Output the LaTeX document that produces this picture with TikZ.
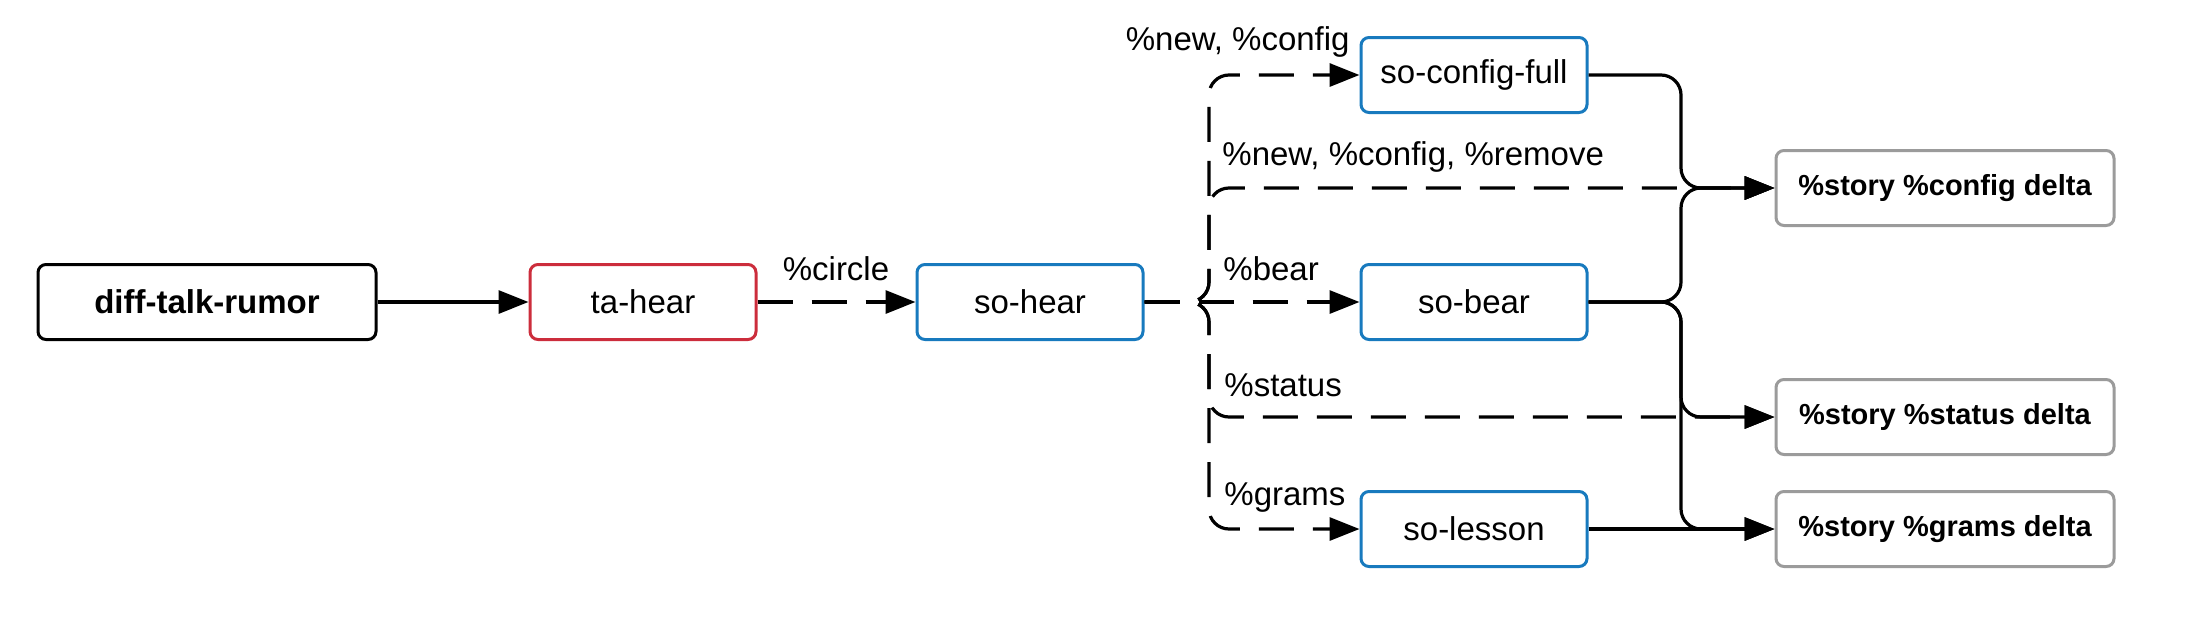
\documentclass[tikz,border=0pt]{standalone}
\usepackage{fontspec}
\setmainfont{Liberation Sans}
\usetikzlibrary{arrows.meta}
\definecolor{tared}{RGB}{204,45,60}
\definecolor{soblue}{RGB}{24,122,190}
\definecolor{deltagray}{RGB}{155,155,155}

\begin{document}
\begin{tikzpicture}[x=0.5pt, y=-0.5pt,
        box/.style={draw, line width=1.5pt, rounded corners=4pt, minimum height=37.5pt,
            inner sep=0pt, font=\fontsize{16.5}{20}\selectfont},
        wide/.style={box, minimum width=169pt},
        narrow/.style={box, minimum width=113pt},
        delta/.style={wide, draw=deltagray, font=\fontsize{14.5}{18}\selectfont\bfseries},
        link/.style={line width=1.6pt, -{Triangle[length=15pt,width=11.5pt]}, rounded corners=10pt},
        dlink/.style={link, dash pattern=on 17.5pt off 9.5pt},
        lbl/.style={inner sep=0pt, font=\fontsize{16.5}{20}\selectfont}]
        \useasboundingbox (0,0) rectangle (2189,643);

        % Nodos principales
        \node[wide, font=\fontsize{16.5}{20}\selectfont\bfseries] (rumor) at (207,302) {diff-talk-rumor};
        \node[narrow, draw=tared] (tahear) at (643,302) {ta-hear};
        \node[narrow, draw=soblue] (sohear) at (1030,302) {so-hear};

        % Ramas so-*
        \node[narrow, draw=soblue] (soconfig) at (1474,75) {so-config-full};
        \node[narrow, draw=soblue] (sobear) at (1474,302) {so-bear};
        \node[narrow, draw=soblue] (solesson) at (1474,529) {so-lesson};

        % Deltas
        \node[delta] (cfgdelta) at (1945,188) {\%story \%config delta};
        \node[delta] (stdelta) at (1945,417) {\%story \%status delta};
        \node[delta] (grdelta) at (1945,529) {\%story \%grams delta};

        % Puntos de cruce
        \coordinate (split) at (1209,302);
        \coordinate (merge) at (1681,302);

        % Etiquetas
        \node[lbl] (lcircle) at (836,269) {\%circle};
        \node[lbl, anchor=east] (lnewcfg) at (1350,42) {\%new, \%config};
        \node[lbl, anchor=west] (lremove) at (1222,157) {\%new, \%config, \%remove};
        \node[lbl, anchor=west] (lbear) at (1223,269) {\%bear};
        \node[lbl, anchor=west] (lstatus) at (1224,385) {\%status};
        \node[lbl, anchor=west] (lgrams) at (1224,497) {\%grams};

        % Flechas de entrada
        \draw[link] (rumor) -- (tahear);
        \draw[dlink] (tahear) -- (sohear);

        % Flechas discontinuas desde so-hear
        \draw[dlink] (sohear) -- (sobear);
        \draw[dlink] (sohear.east) -- (split) |- (soconfig.west);
        \draw[dlink] (sohear.east) -- (split) |- (cfgdelta.west);
        \draw[dlink] (sohear.east) -- (split) |- (stdelta.west);
        \draw[dlink] (sohear.east) -- (split) |- (solesson.west);

        % Flechas hacia los deltas
        \draw[link] (soconfig.east) -| (merge |- cfgdelta.west) -- (cfgdelta.west);
        \draw[link] (sobear.east) -| (merge |- cfgdelta.west) -- (cfgdelta.west);
        \draw[link] (sobear.east) -| (merge |- stdelta.west) -- (stdelta.west);
        \draw[link] (sobear.east) -| (merge |- grdelta.west) -- (grdelta.west);
        \draw[link] (solesson) -- (grdelta);
    \end{tikzpicture}
\end{document}
